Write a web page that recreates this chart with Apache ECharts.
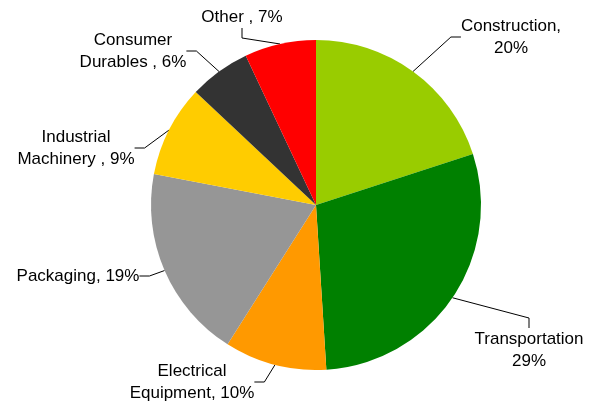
<!DOCTYPE html>
<html>
<head>
<meta charset="utf-8">
<script src="https://cdn.jsdelivr.net/npm/echarts@6/dist/echarts.min.js"></script>
<style>
html,body{margin:0;padding:0;background:#fff;}
#chart{width:601px;height:406px;}
</style>
</head>
<body>
<div id="chart"></div>
<script>
var categories = ['Construction', 'Transportation', 'Electrical Equipment', 'Packaging', 'Industrial Machinery', 'Consumer Durables', 'Other'];
var values = [20, 29, 10, 19, 9, 6, 7];
var labelTexts = ['Construction,\n20%', 'Transportation\n29%', 'Electrical\nEquipment, 10%', 'Packaging, 19%', 'Industrial\nMachinery , 9%', 'Consumer\nDurables , 6%', 'Other , 7%'];
var colors = ['#99CC00', '#008000', '#FF9900', '#969696', '#FFCC00', '#333333', '#FF0000'];
// label anchor positions and leader-line attachment side (layout styling)
var labelPos = [[511, 37], [529, 350], [192, 382], [78, 276], [76, 148], [133, 51], [242, 17]];
var lineSide = [null, 'top', null, null, null, null, 'bottom'];

var chart = echarts.init(document.getElementById('chart'), null, {renderer: 'canvas'});
var data = categories.map(function (c, i) {
  return { name: c, value: values[i], itemStyle: { color: colors[i] } };
});
chart.setOption({
  animation: false,
  backgroundColor: '#ffffff',
  series: [{
    type: 'pie',
    center: [316, 205],
    radius: [0, 165],
    startAngle: 90,
    clockwise: true,
    data: data,
    itemStyle: { borderWidth: 0 },
    label: {
      show: true,
      position: 'outside',
      formatter: function (p) { return labelTexts[p.dataIndex]; },
      fontFamily: 'Liberation Sans, Arial, sans-serif',
      fontSize: 17,
      lineHeight: 22,
      color: '#000000',
      align: 'center'
    },
    labelLine: {
      show: true,
      length: 10,
      length2: 10,
      smooth: false,
      lineStyle: { color: '#000000', width: 1 }
    },
    labelLayout: function (params) {
      var i = params.dataIndex;
      var p = labelPos[i];
      var res = { x: p[0], y: p[1], align: 'center', verticalAlign: 'middle' };
      var side = lineSide[i];
      if (side && params.labelLinePoints && params.labelLinePoints[0]) {
        var h = params.labelRect.height;
        var edge = params.labelLinePoints[0];
        var anchor, bend;
        if (side === 'top') {
          anchor = [p[0], p[1] - h / 2];
          bend = [p[0], p[1] - h / 2 - 10];
        } else {
          anchor = [p[0], p[1] + h / 2];
          bend = [p[0], p[1] + h / 2 + 10];
        }
        res.labelLinePoints = [edge, bend, anchor];
      }
      return res;
    }
  }]
});
</script>
</body>
</html>
